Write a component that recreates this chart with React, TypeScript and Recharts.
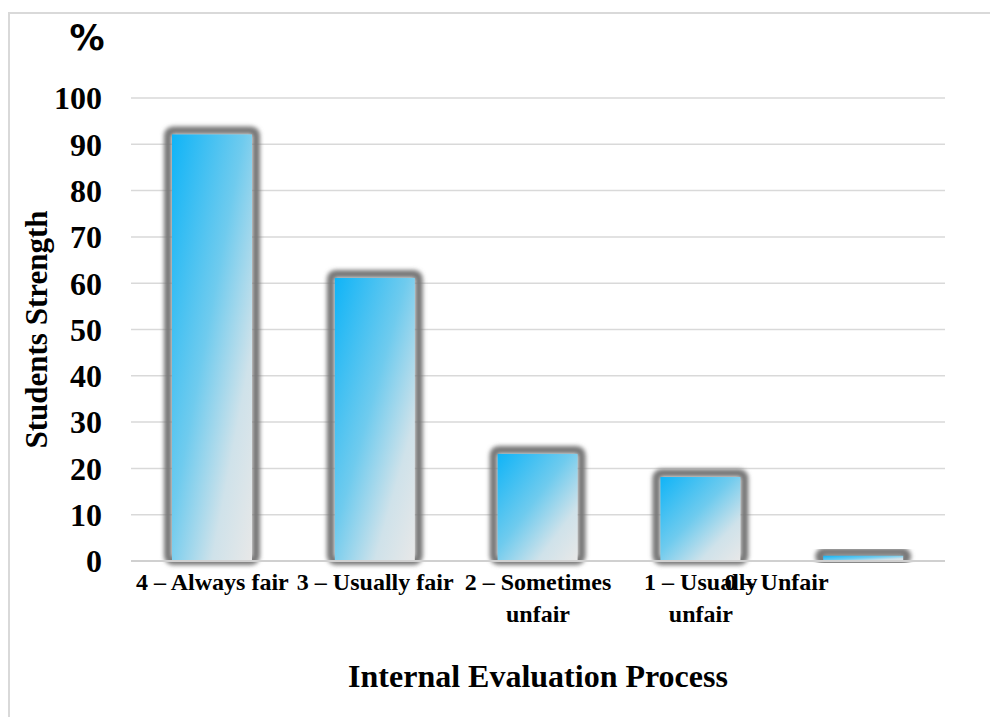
import React from 'react';
import { BarChart, Bar, XAxis, YAxis, CartesianGrid, Label } from 'recharts';

const categories = [
  '4 – Always fair',
  '3 – Usually fair',
  '2 – Sometimes unfair',
  '1 – Usually unfair',
  '0 – Unfair'
];
const tickLabelLines = [
  ['4 – Always fair'],
  ['3 – Usually fair'],
  ['2 – Sometimes', 'unfair'],
  ['1 – Usually', 'unfair'],
  ['0 – Unfair']
];
const strength = [93, 62, 24, 19, 2];
const yTicks = [0, 10, 20, 30, 40, 50, 60, 70, 80, 90, 100];

const data = categories.map((name, i) => ({ name, value: strength[i] }));

const serif = '"Liberation Serif", "Times New Roman", serif';

// category ticks, wrapped into lines like the original
const CategoryTick = (props: any) => {
  const { x, y, index } = props;
  const lines = tickLabelLines[index] || [];
  // the last label sits shifted left in the source picture, overlapping its neighbour
  const shift = index === 4 ? -87 : 0;
  return (
    <text
      x={x + shift}
      y={y}
      textAnchor="middle"
      fontFamily={serif}
      fontWeight="bold"
      fontSize={24}
      fill="#000"
    >
      {lines.map((l, i) => (
        <tspan key={i} x={x + shift} dy={i === 0 ? 29 : 32}>
          {l}
        </tspan>
      ))}
    </text>
  );
};

const BarShape = (props: any) => {
  const { x, y, width, height } = props;
  if (height <= 0) return null;
  const inset = 4;
  return (
    <g>
      <rect
        x={x}
        y={y}
        width={width}
        height={height}
        rx={5}
        fill="none"
        stroke="#777777"
        strokeWidth={8}
        filter="url(#barBlur)"
      />
      <rect
        x={x + inset}
        y={y + inset}
        width={Math.max(width - inset * 2, 0)}
        height={Math.max(height - inset, 0)}
        fill="url(#barFill)"
      />
    </g>
  );
};

export default function App() {
  return (
    <div style={{ position: 'relative', width: 990, height: 709 }}>
      <svg width={0} height={0} style={{ position: 'absolute' }}>
        <defs>
          <linearGradient id="barFill" x1="0" y1="0" x2="1" y2="1">
            <stop offset="0%" stopColor="#10b4f7" />
            <stop offset="45%" stopColor="#6fcbee" />
            <stop offset="75%" stopColor="#cfe2ea" />
            <stop offset="100%" stopColor="#e8e8e8" />
          </linearGradient>
          <filter id="barBlur" x="-20%" y="-20%" width="140%" height="140%">
            <feGaussianBlur stdDeviation="2" />
          </filter>
        </defs>
      </svg>
      <div
        style={{
          position: 'absolute',
          left: 0,
          top: 4,
          width: 988,
          height: 705,
          borderTop: '2px solid #d9d9d9',
          borderLeft: '2px solid #d9d9d9'
        }}
      />
      <div style={{ position: 'absolute', left: 0, top: 0 }}>
        <BarChart
          width={982}
          height={709}
          data={data}
          margin={{ top: 90, right: 45, left: 0, bottom: 27 }}
        >
          <CartesianGrid vertical={false} stroke="#d9d9d9" strokeWidth={1.5} />
          <XAxis
            dataKey="name"
            height={129}
            interval={0}
            tickLine={false}
            tickSize={0}
            tickMargin={0}
            axisLine={{ stroke: '#d0d0d0', strokeWidth: 2 }}
            tick={<CategoryTick />}
          >
            <Label
              content={(p: any) => {
                const vb = p.viewBox;
                return (
                  <text
                    x={vb.x + vb.width / 2}
                    y={vb.y + 126}
                    textAnchor="middle"
                    fontFamily={serif}
                    fontWeight="bold"
                    fontSize={32}
                    fill="#000"
                  >
                    Internal Evaluation Process
                  </text>
                );
              }}
            />
          </XAxis>
          <YAxis
            width={123}
            domain={[0, 100]}
            ticks={yTicks}
            interval={0}
            tickLine={false}
            axisLine={false}
            tickSize={0}
            tickMargin={29}
            tick={{ fontFamily: serif, fontWeight: 'bold', fontSize: 32, fill: '#000' }}
          >
            <Label
              content={(p: any) => {
                const vb = p.viewBox;
                const cy = vb.y + vb.height / 2;
                return (
                  <g>
                    <text
                      x={28}
                      y={cy}
                      transform={`rotate(-90 28 ${cy})`}
                      textAnchor="middle"
                      dominantBaseline="central"
                      fontFamily={serif}
                      fontWeight="bold"
                      fontSize={31}
                      fill="#000"
                    >
                      Students Strength
                    </text>
                    <text
                      x={79}
                      y={42}
                      textAnchor="middle"
                      fontFamily='"DejaVu Sans", sans-serif'
                      fontWeight="bold"
                      fontSize={35}
                      fill="#000"
                    >
                      %
                    </text>
                  </g>
                );
              }}
            />
          </YAxis>
          <Bar
            dataKey="value"
            barSize={88}
            shape={<BarShape />}
            isAnimationActive={false}
          />
        </BarChart>
      </div>
    </div>
  );
}
